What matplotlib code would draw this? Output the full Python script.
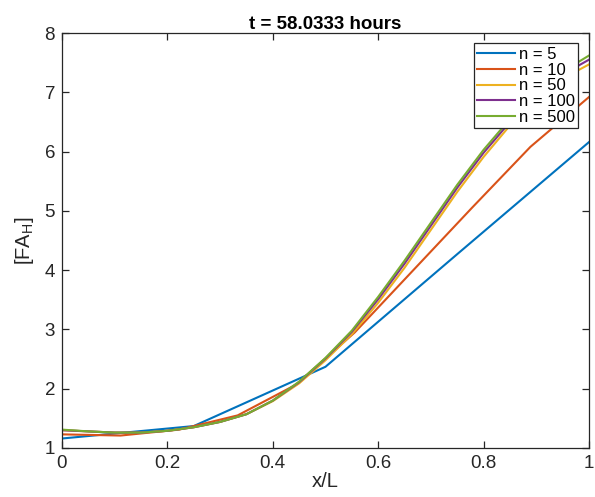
import numpy as np
import matplotlib
matplotlib.use("Agg")
import matplotlib.pyplot as plt

plt.rcParams['font.family'] = ['Liberation Sans', 'DejaVu Sans']
plt.rcParams['mathtext.fontset'] = 'custom'
plt.rcParams['mathtext.rm'] = 'Liberation Sans'

# data
X_N5 = [0.0, 0.25, 0.5, 0.75, 1.0]
Y_N5 = [1.16, 1.37, 2.37, 4.27, 6.16]

X_N10 = [0.0, 1/9, 2/9, 3/9, 4/9, 5/9, 6/9, 7/9, 8/9, 1.0]
Y_N10 = [1.23, 1.21, 1.31, 1.55, 2.07, 2.95, 4.00, 5.05, 6.08, 6.92]

X_FINE = [0.0, 0.05, 0.1, 0.15, 0.2, 0.25, 0.3, 0.35, 0.4, 0.45, 0.5,
          0.55, 0.6, 0.65, 0.7, 0.75, 0.8, 0.85, 0.9, 0.95, 1.0]
Y_N50 = [1.30, 1.28, 1.26, 1.26, 1.29, 1.35, 1.44, 1.57, 1.79, 2.09, 2.48,
         2.92, 3.45, 4.04, 4.68, 5.32, 5.91, 6.44, 6.88, 7.23, 7.47]
Y_N100 = [1.30, 1.28, 1.26, 1.26, 1.29, 1.35, 1.44, 1.57, 1.80, 2.11, 2.51,
          2.96, 3.51, 4.11, 4.75, 5.39, 5.98, 6.50, 6.95, 7.30, 7.55]
Y_N500 = [1.31, 1.28, 1.26, 1.26, 1.29, 1.35, 1.44, 1.57, 1.80, 2.12, 2.52,
          2.98, 3.55, 4.16, 4.80, 5.44, 6.03, 6.55, 7.00, 7.35, 7.62]

LABELS = ['n = 5', 'n = 10', 'n = 50', 'n = 100', 'n = 500']
COLORS = ['#0072BD', '#D95319', '#EDB120', '#7E2F8E', '#77AC30']
AX_COLOR = '#262626'

fig = plt.figure(figsize=(5.95, 4.97), dpi=100)
ax = fig.add_axes([0.1042, 0.0986, 0.8857, 0.835])

series = [(X_N5, Y_N5), (X_N10, Y_N10), (X_FINE, Y_N50),
          (X_FINE, Y_N100), (X_FINE, Y_N500)]
for (xs, ys), lab, col in zip(series, LABELS, COLORS):
    ax.plot(xs, ys, color=col, lw=1.5, label=lab)

ax.set_xlim(0, 1)
ax.set_ylim(1, 8)
ax.set_xticks([0, 0.2, 0.4, 0.6, 0.8, 1])
ax.set_xticklabels(['0', '0.2', '0.4', '0.6', '0.8', '1'])
ax.set_yticks(range(1, 9))

for s in ax.spines.values():
    s.set_color(AX_COLOR)
    s.set_linewidth(0.9)
ax.tick_params(direction='in', length=5, width=0.9, top=True, right=True,
               colors=AX_COLOR, labelsize=13.5, pad=5)

ax.set_xlabel('x/L', fontsize=14.5, color=AX_COLOR, labelpad=0)
ax.set_ylabel('[FA$_{\\mathrm{H}}$]', fontsize=14.5, color=AX_COLOR, labelpad=6)
ax.set_title('t = 58.0333 hours', fontsize=13.5, fontweight='bold', pad=3)

leg = ax.legend(loc='upper right', bbox_to_anchor=(0.979, 0.975),
                borderaxespad=0, fontsize=12, handlelength=2.3,
                handletextpad=0.2, labelspacing=0.05, borderpad=0.2,
                fancybox=False, framealpha=1)
leg.get_frame().set_edgecolor(AX_COLOR)
leg.get_frame().set_linewidth(0.9)

fig.savefig('out.png', dpi=100)
